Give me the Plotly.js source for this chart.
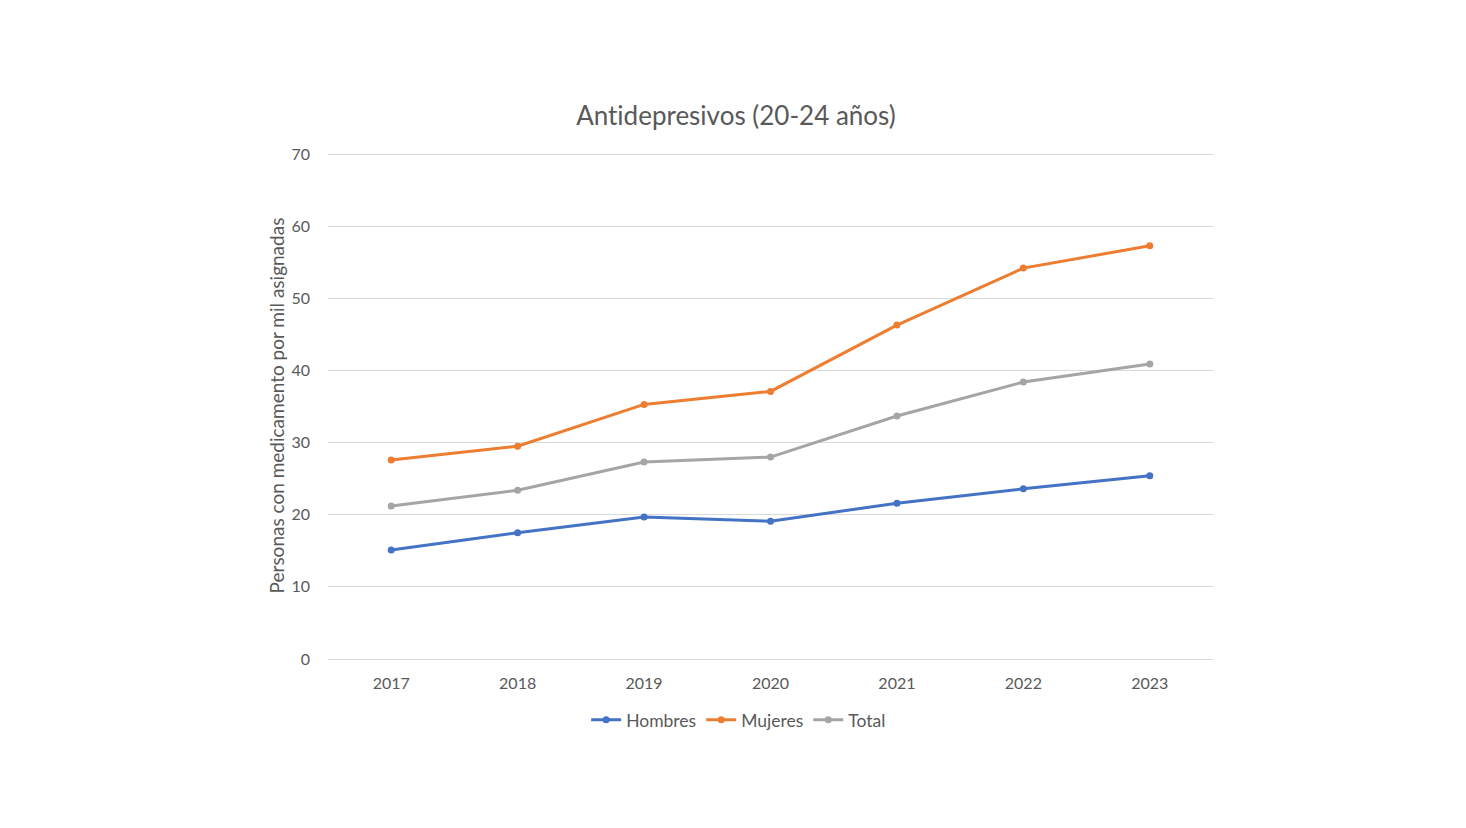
<!DOCTYPE html>
<html><head><meta charset="utf-8">
<script src="https://cdn.plot.ly/plotly-3.0.1.min.js"></script>
<style>html,body{margin:0;padding:0;background:#fff}#c{width:1466px;height:828px}svg text{font-variant-ligatures:none;font-feature-settings:"liga" 0}</style>
</head><body><div id="c"></div>
<script>
const years = ['2017','2018','2019','2020','2021','2022','2023'];
const hombres = [15.1, 17.5, 19.7, 19.1, 21.6, 23.6, 25.4];
const mujeres = [27.6, 29.5, 35.3, 37.1, 46.3, 54.2, 57.3];
const total = [21.2, 23.4, 27.3, 28.0, 33.7, 38.4, 40.9];
const yTicks = [0,10,20,30,40,50,60,70];
const font = 'Lato, "Open Sans", sans-serif';
function tr(name, y, color){
  return {x: years, y: y, name: name, type:'scatter', mode:'lines+markers',
    line:{color: color, width: 3}, marker:{color: color, size: 7}};
}
const data = [tr('Hombres', hombres, '#4472C4'), tr('Mujeres', mujeres, '#ED7D31'), tr('Total', total, '#A5A5A5')];
const layout = {
  width:1466, height:828,
  margin:{l:328, r:253, t:152, b:169},
  paper_bgcolor:'#fff', plot_bgcolor:'#fff',
  font:{family:font, color:'#595959', size:16},
  title:{text:'Antidepresivos (20-24 años)', font:{family:font, size:26, color:'#595959'}, x:0.502, xanchor:'center', y:0.86, yanchor:'middle'},
  xaxis:{type:'category', range:[-0.5,6.5], showgrid:false, zeroline:false, showline:true, linecolor:'#d9d9d9', linewidth:1, ticks:'', ticklabelstandoff:10, tickfont:{size:16, color:'#595959'}, fixedrange:true},
  yaxis:{range:[0,70.3], tickvals:yTicks, showgrid:true, gridcolor:'#d9d9d9', gridwidth:1, zeroline:false, showline:false, ticks:'', ticklabelstandoff:17, tickfont:{size:16, color:'#595959'},
    title:{text:'Personas con medicamento por mil asignadas', font:{family:font, size:19, color:'#595959'}, standoff:1}},
  legend:{orientation:'h', x:0.464, xanchor:'center', y:-0.12, yanchor:'middle', font:{size:17.5, color:'#595959'}, itemwidth:30, tracegroupgap:0},
  showlegend:true
};
Plotly.newPlot('c', data, layout, {displayModeBar:false, staticPlot:true});
</script></body></html>
